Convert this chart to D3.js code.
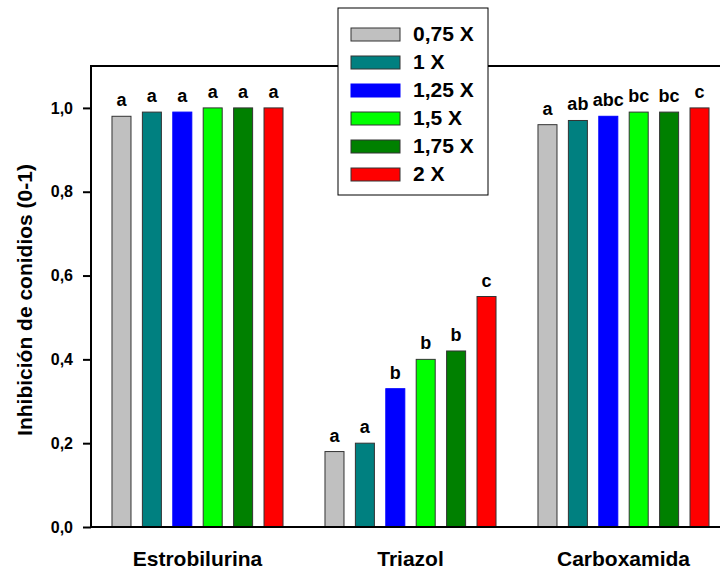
<!DOCTYPE html>
<html lang="es">
<head>
<meta charset="UTF-8" />
<title>Inhibición de conidios</title>
<script src="https://d3js.org/d3.v7.min.js"></script>
<style>
  body { margin: 0; background: #fff; }
  svg { display: block; font-family: Arial, "Liberation Sans", sans-serif; font-weight: bold; }
</style>
</head>
<body>
<svg width="720" height="573"></svg>
<script>
  // datos
  const grupos = ["Estrobilurina", "Triazol", "Carboxamida"];
  const dosis = ["0,75 X", "1 X", "1,25 X", "1,5 X", "1,75 X", "2 X"];
  const colores = ["#c0c0c0", "#008080", "#0000ff", "#00ff00", "#008000", "#ff0000"];
  const estrobilurina = [0.98, 0.99, 0.99, 1.0, 1.0, 1.0];
  const triazol = [0.18, 0.20, 0.33, 0.40, 0.42, 0.55];
  const carboxamida = [0.96, 0.97, 0.98, 0.99, 0.99, 1.0];
  const letrasEstro = ["a", "a", "a", "a", "a", "a"];
  const letrasTriazol = ["a", "a", "b", "b", "b", "c"];
  const letrasCarbox = ["a", "ab", "abc", "bc", "bc", "c"];
  const yTicks = [0, 0.2, 0.4, 0.6, 0.8, 1.0];

  const valores = [estrobilurina, triazol, carboxamida];
  const letras = [letrasEstro, letrasTriazol, letrasCarbox];

  const svg = d3.select("svg");
  const mLeft = 91, mRight = 730, mTop = 66, mBottom = 527;
  const fuente = "Arial, 'Liberation Sans', sans-serif";

  const x0 = d3.scaleBand().domain(grupos).range([mLeft, mRight])
    .paddingInner(0.197).paddingOuter(0.0985);
  const x1 = d3.scaleBand().domain(d3.range(6)).range([0, x0.bandwidth()])
    .paddingInner(0.375).paddingOuter(0);
  const y = d3.scaleLinear().domain([0, 1.1]).range([mBottom, mTop]);

  // barras
  const g = svg.append("g");
  grupos.forEach((grp, gi) => {
    const gg = g.append("g").attr("transform", `translate(${x0(grp)},0)`);
    gg.selectAll("rect")
      .data(valores[gi])
      .enter().append("rect")
      .attr("x", (d, i) => x1(i))
      .attr("y", d => y(d))
      .attr("width", x1.bandwidth())
      .attr("height", d => y(0) - y(d))
      .attr("fill", (d, i) => colores[i])
      .attr("stroke", (d, i) => i === 2 ? colores[i] : "#333")
      .attr("stroke-width", 1);
    gg.selectAll("text")
      .data(valores[gi])
      .enter().append("text")
      .attr("x", (d, i) => x1(i) + x1.bandwidth() / 2)
      .attr("y", d => y(d) - 10)
      .attr("text-anchor", "middle")
      .attr("font-size", 18)
      .text((d, i) => letras[gi][i]);
  });

  // ejes
  const yAxis = svg.append("g")
    .attr("transform", `translate(${mLeft},0)`)
    .call(d3.axisLeft(y).tickValues(yTicks).tickSize(8).tickPadding(10)
      .tickFormat(d => d3.format(".1f")(d).replace(".", ",")));
  yAxis.select(".domain").remove();
  yAxis.selectAll("line").attr("stroke", "#000").attr("stroke-width", 2);
  yAxis.selectAll("text").attr("font-size", 16).attr("font-weight", "bold")
    .attr("font-family", fuente).attr("fill", "#000");

  svg.append("path")
    .attr("d", `M${mRight},${mTop}H${mLeft}V${mBottom}H${mRight}`)
    .attr("fill", "none").attr("stroke", "#000").attr("stroke-width", 2);

  const xAxis = svg.append("g")
    .attr("transform", `translate(0,${mBottom})`)
    .call(d3.axisBottom(x0).tickSize(0).tickPadding(24));
  xAxis.select(".domain").remove();
  xAxis.selectAll("text").attr("font-size", 21).attr("font-weight", "bold")
    .attr("font-family", fuente).attr("fill", "#000");

  svg.append("text")
    .attr("transform", "translate(32,300) rotate(-90)")
    .attr("text-anchor", "middle")
    .attr("font-size", 21)
    .text("Inhibición de conidios (0-1)");

  // leyenda
  const legend = svg.append("g").attr("transform", "translate(338,8)");
  legend.append("rect")
    .attr("width", 150).attr("height", 187)
    .attr("fill", "#fff").attr("stroke", "#000").attr("stroke-width", 1);
  dosis.forEach((d, i) => {
    legend.append("rect")
      .attr("x", 13).attr("y", 20 + i * 28)
      .attr("width", 49).attr("height", 13)
      .attr("fill", colores[i])
      .attr("stroke", i === 2 ? colores[i] : "#333");
    legend.append("text")
      .attr("x", 75).attr("y", 33 + i * 28)
      .attr("font-size", 21)
      .text(d);
  });
</script>
</body>
</html>
